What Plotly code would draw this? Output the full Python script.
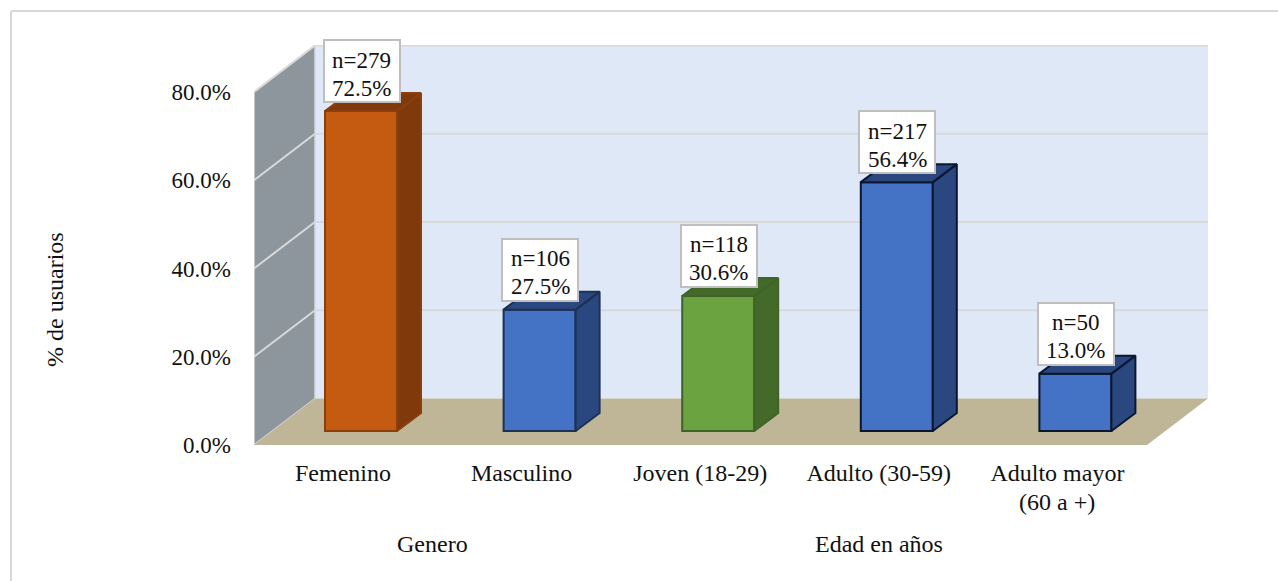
import plotly.graph_objects as go

categories = ["Femenino", "Masculino", "Joven (18-29)", "Adulto (30-59)", "Adulto mayor"]
last_category_line2 = "(60 a +)"
counts = [279, 106, 118, 217, 50]
percent = [72.5, 27.5, 30.6, 56.4, 13.0]
groups = ["Genero", "Edad en años"]
group_centres = [0.5, 3.0]
y_ticks = [0, 20, 40, 60, 80]
front_colors = ["#C55A11", "#4472C4", "#6AA33F", "#4472C4", "#4472C4"]
side_colors = ["#7F390B", "#2A487F", "#436A29", "#2A487F", "#2A487F"]
edge_colors = ["#8A3F0D", "#1C3154", "#3F6328", "#0B1730", "#0B1730"]

FONT = "Liberation Serif"
FS = 23
FSX = 24
W, H = 1278, 581
L, R, T, B = 254, 1208, 45, 445
XU = 178.6            # px per category
YU = 4.4125           # px per percentage point
x0_px = 343           # px of first category
xmin, xmax = (L - x0_px) / XU, (R - x0_px) / XU
ymax = (B - T) / YU
wall_dx, wall_dy = 61 / XU, 46.5 / YU
bar_dx, bar_dy = 24 / XU, 18 / YU
bar_w, bar_off = 72 / XU, 18 / XU
bar_base = 14 / YU
front_r = xmax - wall_dx
INK = "#111111"

fig = go.Figure()

# walls and floor
shapes = [
    dict(type="rect", xref="x", yref="y", x0=xmin + wall_dx, x1=xmax, y0=wall_dy, y1=80 + wall_dy,
         fillcolor="#DEE8F6", line=dict(width=0), layer="below"),
    dict(type="path", xref="x", yref="y",
         path=f"M{xmin},0 L{xmin},80 L{xmin + wall_dx},{80 + wall_dy} L{xmin + wall_dx},{wall_dy} Z",
         fillcolor="#8D959D", line=dict(color="#D9D9D9", width=1.5), layer="below"),
    dict(type="path", xref="x", yref="y",
         path=f"M{xmin},0 L{front_r},0 L{xmax},{wall_dy} L{xmin + wall_dx},{wall_dy} Z",
         fillcolor="#BFB698", line=dict(width=0), layer="below"),
]
for t in y_ticks[1:]:
    shapes.append(dict(type="line", xref="x", yref="y", x0=xmin, x1=xmin + wall_dx, y0=t, y1=t + wall_dy,
                       line=dict(color="#D9D9D9", width=2), layer="below"))
    shapes.append(dict(type="line", xref="x", yref="y", x0=xmin + wall_dx, x1=xmax, y0=t + wall_dy, y1=t + wall_dy,
                       line=dict(color="#D9D9D9", width=2), layer="below"))
# chart frame (left and top edges only are visible)
shapes.append(dict(type="line", xref="paper", yref="paper", x0=(11 - L) / (R - L), x1=(11 - L) / (R - L),
                   y0=(B - 11) / (B - T), y1=(B - H) / (B - T), line=dict(color="#D9D9D9", width=2), layer="below"))
shapes.append(dict(type="line", xref="paper", yref="paper", x0=(11 - L) / (R - L), x1=(W - L) / (R - L),
                   y0=(B - 11) / (B - T), y1=(B - 11) / (B - T), line=dict(color="#D9D9D9", width=2), layer="below"))

xs = list(range(len(categories)))
fig.add_trace(go.Bar(
    x=xs, y=percent, base=bar_base, width=bar_w, offset=bar_off - bar_w / 2,
    marker=dict(color=front_colors, line=dict(color=edge_colors, width=2)),
    hoverinfo="x+y", showlegend=False,
))

# depth faces derived from each value
for i, v in enumerate(percent):
    left = i + bar_off - bar_w / 2
    right = left + bar_w
    top = bar_base + v
    fig.add_trace(go.Scatter(
        x=[right, right + bar_dx, right + bar_dx, right, right],
        y=[bar_base, bar_base + bar_dy, top + bar_dy, top, bar_base],
        mode="lines", fill="toself", fillcolor=side_colors[i],
        line=dict(color=edge_colors[i], width=2), hoverinfo="skip", showlegend=False))
    fig.add_trace(go.Scatter(
        x=[left, right, right + bar_dx, left + bar_dx, left],
        y=[top, top, top + bar_dy, top + bar_dy, top],
        mode="lines", fill="toself", fillcolor=side_colors[i],
        line=dict(color=edge_colors[i], width=2), hoverinfo="skip", showlegend=False))

annotations = []
for i, (n, p) in enumerate(zip(counts, percent)):
    cx = i + bar_off + 0.5 / XU
    common = dict(x=cx, y=bar_base + p, xref="x", yref="y", xanchor="center", showarrow=False,
                  font=dict(family=FONT, size=FS, color=INK))
    # white label box
    annotations.append(dict(common, yanchor="bottom", yshift=8, text=" ",
                            bgcolor="#FFFFFF", bordercolor="#BFBFBF", borderwidth=2, borderpad=0,
                            width=74, height=60))
    # two label lines, 28 px apart as in the reference
    annotations.append(dict(common, yanchor="middle", yshift=51, text=f"n={n}"))
    annotations.append(dict(common, yanchor="middle", yshift=23, text=f"{p:.1f}%"))
annotations.append(dict(x=xs[-1], y=(B - 502) / (B - T), xref="x", yref="paper", yanchor="middle", xanchor="center",
                        showarrow=False, text=last_category_line2, font=dict(family=FONT, size=FSX, color=INK)))
for g, c in zip(groups, group_centres):
    annotations.append(dict(x=c, y=(B - 544) / (B - T), xref="x", yref="paper", yanchor="middle", xanchor="center",
                            showarrow=False, text=g, font=dict(family=FONT, size=FSX, color=INK)))
annotations.append(dict(x=(55 - L) / (R - L), y=(B - 300) / (B - T), xref="paper", yref="paper",
                        showarrow=False, text="% de usuarios", textangle=-90,
                        xanchor="center", yanchor="middle", font=dict(family=FONT, size=FSX, color=INK)))

fig.update_layout(
    width=W, height=H, autosize=False,
    margin=dict(l=L, r=W - R, t=T, b=H - B, pad=0),
    paper_bgcolor="#FFFFFF", plot_bgcolor="#FFFFFF",
    font=dict(family=FONT, size=FS, color=INK),
    showlegend=False, shapes=shapes, annotations=annotations,
    xaxis=dict(range=[xmin, xmax], tickmode="array", tickvals=xs, ticktext=categories,
               tickfont=dict(family=FONT, size=FSX, color=INK),
               showgrid=False, zeroline=False, showline=False, ticks="", ticklabelstandoff=11,
               tickangle=0, automargin=False),
    yaxis=dict(range=[0, ymax], tickmode="array", tickvals=y_ticks,
               ticktext=[f"{t:.1f}%" for t in y_ticks],
               showgrid=False, zeroline=False, showline=False, ticks="", ticklabelstandoff=22,
               automargin=False),
)
fig.write_html("out.html", config=dict(displayModeBar=False),
               post_script="document.body.style.margin='0';document.body.style.overflow='hidden';")
